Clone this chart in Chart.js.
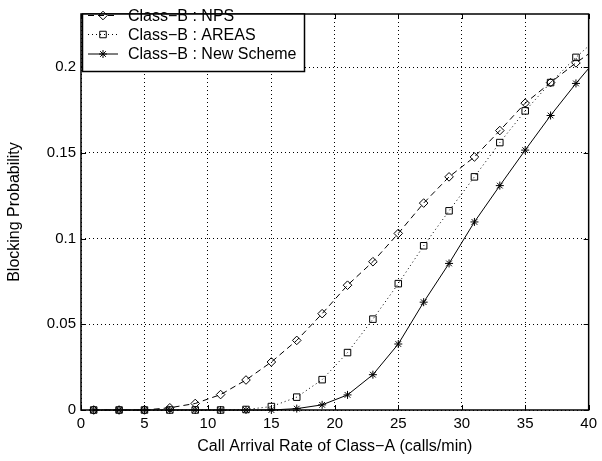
<!DOCTYPE html>
<html><head><meta charset="utf-8">
<script src="https://cdn.jsdelivr.net/npm/chart.js@4.4.1/dist/chart.umd.min.js"></script>
<style>html,body{margin:0;padding:0;background:#fff}#wrap{width:602px;height:461px}</style>
</head><body>
<div id="wrap"><canvas id="c" width="602" height="461"></canvas></div>
<script>
const xValues = [1,3,5,7,9,11,13,15,17,19,21,23,25,27,29,31,33,35,37,39,41];
const npsValues = [0,0,0,0.0013,0.0038,0.009,0.0175,0.028,0.0406,0.0562,0.0728,0.0865,0.103,0.1207,0.136,0.1476,0.163,0.179,0.191,0.2025,0.213];
const areasValues = [0,0,0,0,0,0,0.0003,0.002,0.0075,0.0177,0.0335,0.053,0.0737,0.0958,0.1162,0.136,0.156,0.1745,0.191,0.2057,0.219];
const newSchemeValues = [0,0,0,0,0,0,0,0,0.0008,0.003,0.0088,0.0206,0.0385,0.0629,0.0855,0.1097,0.1309,0.1516,0.1718,0.1905,0.208];
const seriesNames = ['Class\u2212B : NPS','Class\u2212B : AREAS','Class\u2212B : New Scheme'];
const xTicks = [0,5,10,15,20,25,30,35,40];
const yTicks = [0,0.05,0.1,0.15,0.2];
const yTickLabels = ['0','0.05','0.1','0.15','0.2'];
const xTitle = 'Call Arrival Rate of Class\u2212A (calls/min)';
const yTitle = 'Blocking Probability';

const FONT = '"Liberation Sans", Arial, Helvetica, sans-serif';
Chart.defaults.font.family = FONT;
Chart.defaults.color = '#000';

const toPts = (ys) => xValues.map((x, i) => ({x: x, y: ys[i]}));

const styles = [
  {pointStyle: 'rectRot', radius: 4.3, dash: [6, 4]},
  {pointStyle: 'rect', radius: 4.6, dash: [1, 3]},
  {pointStyle: 'star', radius: 4, dash: []}
];
const seriesData = [npsValues, areasValues, newSchemeValues];

const datasets = seriesData.map((ys, i) => ({
  label: seriesNames[i],
  data: toPts(ys),
  borderColor: '#000',
  borderWidth: 1,
  borderDash: styles[i].dash,
  pointStyle: styles[i].pointStyle,
  pointRadius: styles[i].radius,
  pointBorderColor: '#000',
  pointBackgroundColor: 'rgba(0,0,0,0)',
  pointBorderWidth: 1,
  tension: 0,
  fill: false,
  clip: {left: 10, top: 10, right: 0, bottom: 10}
}));

const framePlugin = {
  id: 'frame',
  afterDatasetsDraw(chart) {
    const ctx = chart.ctx;
    const a = chart.chartArea;
    const xs = chart.scales.x, ys = chart.scales.y;
    ctx.save();
    ctx.setLineDash([]);
    ctx.strokeStyle = '#000';
    ctx.lineWidth = 1;
    const tl = 5;
    ctx.beginPath();
    xTicks.forEach(v => {
      const px = Math.round(xs.getPixelForValue(v)) + 0.5;
      ctx.moveTo(px, a.bottom); ctx.lineTo(px, a.bottom - tl);
      ctx.moveTo(px, a.top); ctx.lineTo(px, a.top + tl);
    });
    yTicks.forEach(v => {
      const py = Math.round(ys.getPixelForValue(v)) + 0.5;
      ctx.moveTo(a.left, py); ctx.lineTo(a.left + tl, py);
      ctx.moveTo(a.right, py); ctx.lineTo(a.right - tl, py);
    });
    ctx.stroke();
    ctx.lineWidth = 1.5;
    ctx.strokeRect(a.left, a.top, a.right - a.left, a.bottom - a.top);

    // legend
    const bx = 82.5, by = a.top, bw = 222, bh = 57.5;
    ctx.fillStyle = '#fff';
    ctx.fillRect(bx, by, bw, bh);
    ctx.strokeStyle = '#000';
    ctx.lineWidth = 1.5;
    ctx.strokeRect(bx, by, bw, bh);
    const rowY = [15.5, 34.5, 54];
    ctx.font = '16px ' + FONT;
    ctx.textBaseline = 'middle';
    ctx.textAlign = 'left';
    seriesNames.forEach((name, i) => {
      const y = rowY[i];
      ctx.lineWidth = 1;
      ctx.strokeStyle = '#000';
      ctx.setLineDash(styles[i].dash);
      ctx.beginPath();
      ctx.moveTo(88, y); ctx.lineTo(118, y);
      ctx.stroke();
      ctx.setLineDash([]);
      ctx.fillStyle = 'rgba(0,0,0,0)';
      Chart.helpers.drawPoint(ctx, {
        pointStyle: styles[i].pointStyle,
        radius: styles[i].radius,
        rotation: 0,
        borderWidth: 1
      }, 103, y);
      ctx.fillStyle = '#000';
      ctx.fillText(name, 128, y + 1);
    });
    ctx.restore();
  }
};

new Chart(document.getElementById('c'), {
  type: 'line',
  data: {datasets: datasets},
  options: {
    responsive: false,
    animation: false,
    events: [],
    layout: {padding: {top: 6, right: 8, left: 0, bottom: 0}},
    plugins: {legend: {display: false}, title: {display: false}, tooltip: {enabled: false}},
    scales: {
      x: {
        type: 'linear', min: 0, max: 40,
        afterFit(s) { s.height = 51; },
        afterBuildTicks(s) { s.ticks = xTicks.map(v => ({value: v})); },
        ticks: {font: {size: 15}, padding: 5, maxRotation: 0, callback: (v) => String(v)},
        grid: {color: '#000', lineWidth: 1, drawTicks: false},
        border: {display: false, dash: [1, 3]},
        title: {display: true, text: xTitle, font: {size: 16}, padding: {top: 0, bottom: 5}}
      },
      y: {
        type: 'linear', min: 0, max: 0.231,
        afterFit(s) { s.width = 81; },
        afterBuildTicks(s) { s.ticks = yTicks.map(v => ({value: v})); },
        ticks: {font: {size: 15}, padding: 5, callback: (v) => { const i = yTicks.findIndex(t => Math.abs(t - v) < 1e-9); return i >= 0 ? yTickLabels[i] : ''; }},
        grid: {color: '#000', lineWidth: 1, drawTicks: false},
        border: {display: false, dash: [1, 3]},
        title: {display: true, text: yTitle, font: {size: 16}, padding: {top: 5, bottom: 0}}
      }
    }
  },
  plugins: [framePlugin]
});
</script>
</body></html>
